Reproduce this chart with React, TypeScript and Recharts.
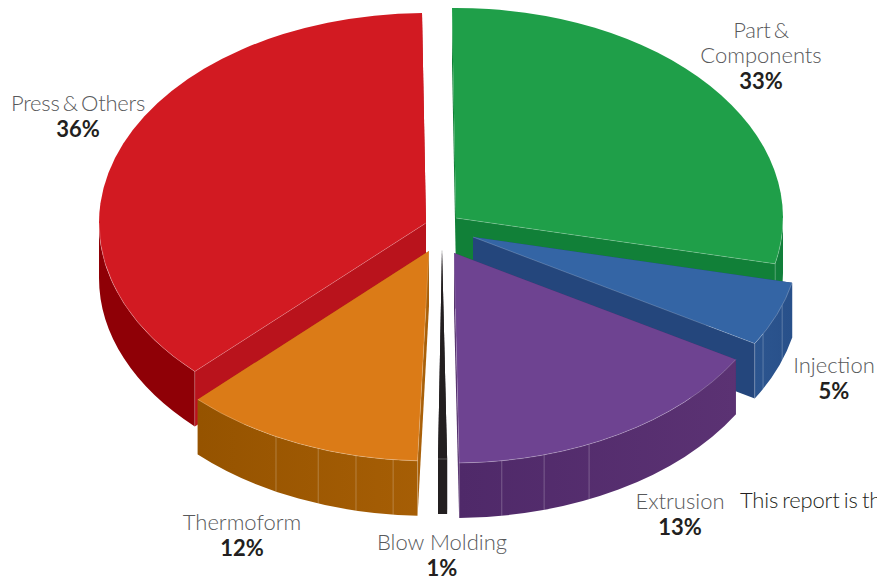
import { Pie, PieChart } from "recharts";

const categories = ["Press & Others", "Part & Components", "Injection", "Extrusion", "Blow Molding", "Thermoform"];
const shares = [36, 33, 5, 13, 1, 12];

const chartData = categories.map((category, i) => ({ category, share: shares[i] }));

const WIDTH = 877;
const HEIGHT = 578;
const RADIUS = 327;
const SQUASH = 210 / 327;
const DEPTH = 55;
const CX = 440;
const CY = 235;
const FONT = "Lato, 'Open Sans', sans-serif";

// the slices are painted back to front, so the pie starts at Press & Others
const startCompass = 360 * (1 - shares[0] / shares.reduce((a, b) => a + b, 0));

// how far each slice is pulled out of the centre
const explode: [number, number][] = [[-14, -12], [16, -17], [33, 2], [14, 18], [2, 14], [-11, 16]];
// Thermoform's edge starts a little past the thin Blow Molding slice
const startTrim = [0, 0, 0, 0, 0, 1.3];

const sliceColors = [
  { top: "#d21a22", rim: "#8f0006", rimEnd: "#8f0006", wall: "#b9131c" },
  { top: "#1f9f49", rim: "#117f3a", rimEnd: "#117f3a", wall: "#118038" },
  { top: "#3465a5", rim: "#2c558f", rimEnd: "#28508a", wall: "#24467c" },
  { top: "#6e4391", rim: "#4f2969", rimEnd: "#5b3273", wall: "#4f2a68" },
  { top: "#231f20", rim: "#231f20", rimEnd: "#231f20", wall: "#231f20" },
  { top: "#db7b17", rim: "#955300", rimEnd: "#a65e05", wall: "#a96009" },
];

// flat pie angle -> angle seen on the tilted pie, compass degrees
const perspective: [number, number][] = [
  [0, -0.7], [118.8, 102.6], [136.8, 120.5], [183.6, 179.1], [187.2, 180.7], [230.4, 225], [360, 359.3],
];

// thin seams on the outer wall
const seams = [109, 117.5, 155.6, 164, 171.6, 186.3, 192.9, 199.8, 207.9];

const labelAt: [number, number][] = [[78, 111], [761, 38], [834, 373], [680, 509], [442, 550], [242, 530]];
const labelLines: string[][] = [["Press & Others"], ["Part &", "Components"], ["Injection"], ["Extrusion"], ["Blow Molding"], ["Thermoform"]];

function warp(angle: number) {
  const a = ((angle % 360) + 360) % 360;
  for (let i = 1; i < perspective.length; i++) {
    const [x0, y0] = perspective[i - 1];
    const [x1, y1] = perspective[i];
    if (a <= x1) return y0 + ((a - x0) / (x1 - x0)) * (y1 - y0);
  }
  return a;
}

function Slice3D(props: any) {
  const i = categories.indexOf(props.payload.category);
  const colors = sliceColors[i];
  const cx = props.cx + explode[i][0];
  const cy = props.cy + explode[i][1];
  const rx = props.outerRadius;
  const ry = rx * SQUASH;
  const from = warp(90 - props.startAngle) + startTrim[i];
  let to = warp(90 - props.endAngle);
  if (to <= from) to += 360;

  const at = (t: number, drop = 0) => {
    const rad = (t * Math.PI) / 180;
    return `${cx + rx * Math.sin(rad)} ${cy - ry * Math.cos(rad) + drop}`;
  };
  const arc = (a: number, b: number, drop = 0, sweep = 1) =>
    `A ${rx} ${ry} 0 ${Math.abs(b - a) > 180 ? 1 : 0} ${sweep} ${at(b, drop)}`;
  const radialWall = (t: number) =>
    `M ${cx} ${cy} L ${at(t)} L ${at(t, DEPTH)} L ${cx} ${cy + DEPTH} Z`;

  // outer wall only shows on the front half
  const rimFrom = Math.max(from, 90);
  const rimTo = Math.min(to, 270);
  const gradientId = `rim-${i}`;

  // radial edge that has its wall showing below it
  const frontEdge = from >= 180 && from < 360 ? from : to > 0 && to <= 180 ? to : null;

  return (
    <g>
      <defs>
        <linearGradient id={gradientId} x1="0" y1="0" x2="1" y2="0">
          <stop offset="0" stopColor={colors.rim} />
          <stop offset="1" stopColor={colors.rimEnd} />
        </linearGradient>
      </defs>
      <path d={radialWall(from)} fill={colors.wall} />
      <path d={radialWall(to)} fill={colors.wall} />
      {rimTo > rimFrom && (
        <path
          d={`M ${at(rimFrom)} ${arc(rimFrom, rimTo)} L ${at(rimTo, DEPTH)} ${arc(rimTo, rimFrom, DEPTH, 0)} Z`}
          fill={`url(#${gradientId})`}
        />
      )}
      {seams
        .filter((t) => t > from && t < to)
        .map((t) => (
          <path key={t} d={`M ${at(t)} L ${at(t, DEPTH)}`} stroke="#fff" strokeOpacity={0.3} strokeWidth={0.8} />
        ))}
      <path d={`M ${cx} ${cy} L ${at(from)} ${arc(from, to)} Z`} fill={colors.top} />
      {rimTo > rimFrom && (
        <path d={`M ${at(rimFrom)} ${arc(rimFrom, rimTo)}`} fill="none" stroke="#fff" strokeOpacity={0.35} strokeWidth={0.7} />
      )}
      {frontEdge !== null && i !== 4 && (
        <path
          d={`M ${cx} ${cy} L ${at(frontEdge)} L ${at(frontEdge, DEPTH)}`}
          fill="none"
          stroke="#fff"
          strokeOpacity={0.3}
          strokeWidth={0.7}
        />
      )}
    </g>
  );
}

function SliceLabel(props: any) {
  const i = props.index;
  const [x, y] = labelAt[i];
  const lines = labelLines[i];
  const tight = (line: string) => line.includes("&");
  return (
    <text textAnchor="middle" fontFamily={FONT}>
      {lines.map((line, n) => (
        <tspan
          key={line}
          x={x}
          y={y + n * 25}
          fontSize={22}
          fontWeight={300}
          fill="#58595b"
          wordSpacing={tight(line) ? -2.5 : 0}
          letterSpacing={tight(line) ? -0.25 : 0}
        >
          {line}
        </tspan>
      ))}
      <tspan x={x} y={y + lines.length * 25 + 1} fontSize={22} fontWeight={700} fill="#231f20">
        {shares[i]}%
      </tspan>
    </text>
  );
}

export default function App() {
  return (
    <div style={{ position: "absolute", left: 0, top: 0, width: WIDTH, height: HEIGHT, overflow: "hidden" }}>
      <PieChart width={WIDTH} height={HEIGHT} margin={{ top: 0, right: 0, bottom: 0, left: 0 }}>
        <Pie
          data={chartData}
          dataKey="share"
          nameKey="category"
          cx={CX}
          cy={CY}
          innerRadius={0}
          outerRadius={RADIUS}
          startAngle={90 - startCompass}
          endAngle={90 - startCompass - 360}
          paddingAngle={0}
          stroke="none"
          shape={Slice3D}
          label={SliceLabel}
          labelLine={false}
          isAnimationActive={false}
        />
        <text x={740} y={508} fontFamily={FONT} fontSize={22} fontWeight={300} fill="#231f20" wordSpacing={-1.5} letterSpacing={-0.2}>
          This report is the
        </text>
      </PieChart>
    </div>
  );
}
